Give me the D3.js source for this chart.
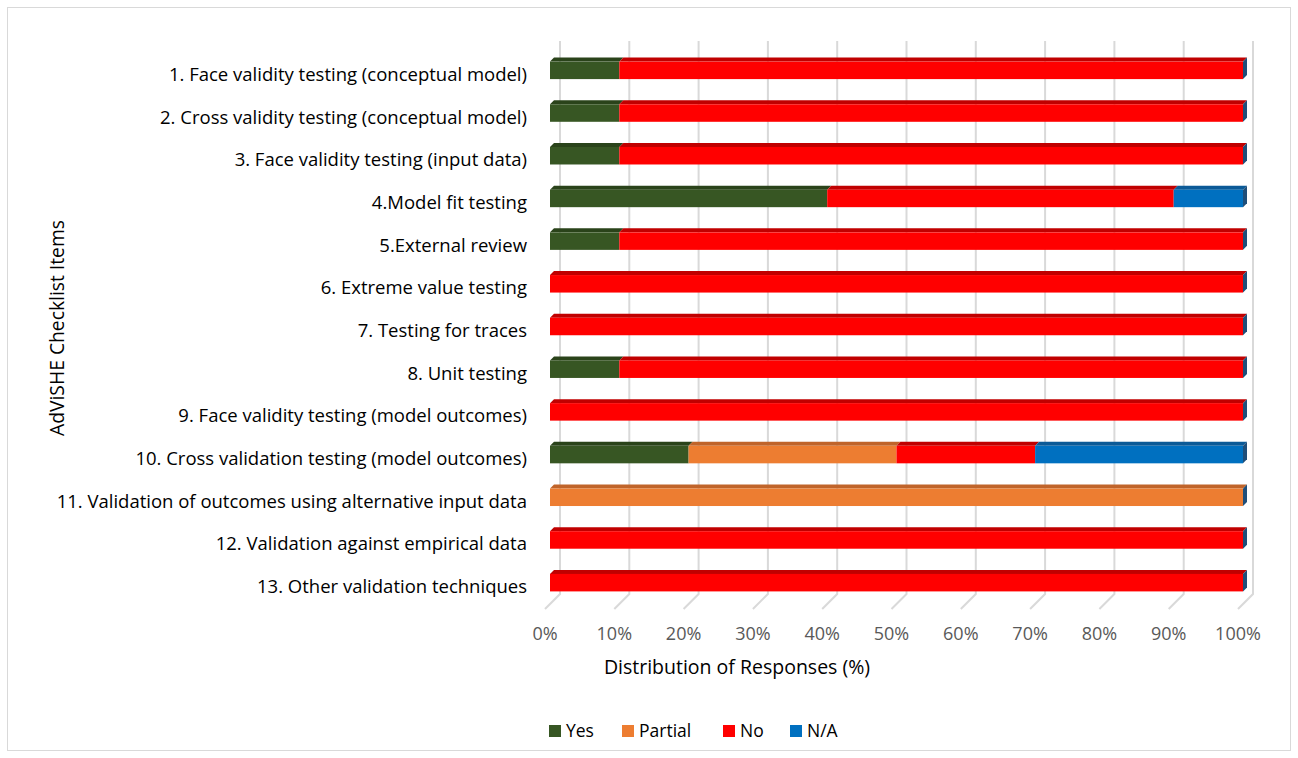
<!DOCTYPE html>
<html>
<head>
<meta charset="utf-8">
<script src="https://cdn.jsdelivr.net/npm/d3@7"></script>
<style>
  html, body { margin: 0; padding: 0; background: #ffffff; }
  svg { display: block; font-family: "Open Sans", Lato, sans-serif; }
</style>
</head>
<body>
<svg id="chart" width="1298" height="758"></svg>
<script>
// AdViSHE checklist items (top to bottom)
const categories = [
  "1. Face validity testing (conceptual model)",
  "2. Cross validity testing (conceptual model)",
  "3. Face validity testing (input data)",
  "4.Model fit testing",
  "5.External review",
  "6. Extreme value testing",
  "7. Testing for traces",
  "8. Unit testing",
  "9. Face validity testing (model outcomes)",
  "10. Cross validation testing (model outcomes)",
  "11. Validation of outcomes using alternative input data",
  "12. Validation against empirical data",
  "13. Other validation techniques"
];

// Share of responses per item (%)
const seriesNames = ["Yes", "Partial", "No", "N/A"];
const yesValues     = [10, 10, 10, 40, 10, 0, 0, 10, 0, 20, 0, 0, 0];
const partialValues = [0, 0, 0, 0, 0, 0, 0, 0, 0, 30, 100, 0, 0];
const noValues      = [90, 90, 90, 50, 90, 100, 100, 90, 100, 20, 0, 100, 100];
const naValues      = [0, 0, 0, 10, 0, 0, 0, 0, 0, 30, 0, 0, 0];

const tickValues = [0, 10, 20, 30, 40, 50, 60, 70, 80, 90, 100];
const tickLabels = ["0%", "10%", "20%", "30%", "40%", "50%", "60%", "70%", "80%", "90%", "100%"];

const frontColors = ["#375623", "#ED7D31", "#FF0000", "#0070C0"];
const topColors   = ["#2A431A", "#C0642A", "#C00000", "#0B5A97"];
const sideColors  = ["#2A431A", "#B35C24", "#B30000", "#1F4E79"];

const svg = d3.select("#chart");
const W = 1298, H = 758;

// chart frame
svg.append("rect")
  .attr("x", 7.5).attr("y", 7.5)
  .attr("width", W - 15).attr("height", H - 15)
  .attr("fill", "#fff").attr("stroke", "#d9d9d9").attr("stroke-width", 1);

// oblique depth offsets (45 degree projection)
const barDepth = 4;     // thickness of the bars
const wallShift = 10;   // bar front -> back wall
const floorShift = 5;   // bar front -> floor front edge

// x scale in the plane of the bars' front faces
const x = d3.scaleLinear().domain([0, 100]).range([550, 1243]);
// category scale in the same plane
const y = d3.scaleBand().domain(categories).range([49, 604])
  .paddingInner(0.59).paddingOuter(0.295);

const wallTop = 41;
const wallBottom = y.range()[1] - wallShift;

// gridlines on the back wall and the floor
const grid = svg.append("g").attr("stroke", "#d9d9d9").attr("stroke-width", 2).attr("fill", "none");
tickValues.forEach(v => {
  const xb = x(v) + wallShift;
  grid.append("path")
    .attr("d", `M${xb},${wallTop}V${wallBottom}L${x(v) - floorShift},${wallBottom + wallShift + floorShift}`);
});

// stacked data
const rows = categories.map((c, i) => {
  const vals = [yesValues[i], partialValues[i], noValues[i], naValues[i]];
  let acc = 0;
  const segs = vals.map((v, k) => {
    const s = { series: seriesNames[k], k, x0: acc, x1: acc + v };
    acc += v;
    return s;
  });
  return { cat: c, segs, total: acc };
});

const bars = svg.append("g");
rows.forEach(r => {
  const yt = y(r.cat), h = y.bandwidth();
  const g = bars.append("g");
  r.segs.filter(s => s.x1 > s.x0).forEach(s => {
    const a = x(s.x0), b = x(s.x1);
    // top face
    g.append("path")
      .attr("d", `M${a},${yt}L${a + barDepth},${yt - barDepth}L${b + barDepth},${yt - barDepth}L${b},${yt}Z`)
      .attr("fill", topColors[s.k]);
    // front face
    g.append("rect")
      .attr("x", a).attr("y", yt)
      .attr("width", b - a).attr("height", h)
      .attr("fill", frontColors[s.k]);
  });
  // end face, belonging to the last series in the stack
  const e = x(r.total);
  g.append("path")
    .attr("d", `M${e},${yt}L${e + barDepth},${yt - barDepth}L${e + barDepth},${yt + h - barDepth}L${e},${yt + h}Z`)
    .attr("fill", sideColors[3]);
});

// category labels
svg.append("g").selectAll("text").data(categories).join("text")
  .attr("x", 527)
  .attr("y", d => y(d) + y.bandwidth() / 2 + floorShift - 2)
  .attr("text-anchor", "end")
  .attr("dominant-baseline", "central")
  .attr("font-size", 18.5)
  .attr("fill", "#000")
  .text(d => d);

// value axis tick labels
svg.append("g").selectAll("text").data(tickValues).join("text")
  .attr("x", v => x(v) - floorShift)
  .attr("y", 640)
  .attr("text-anchor", "middle")
  .attr("font-size", 18)
  .attr("fill", "#595959")
  .text((v, i) => tickLabels[i]);

// axis titles
svg.append("text")
  .attr("x", 737).attr("y", 674)
  .attr("text-anchor", "middle")
  .attr("font-size", 19.5)
  .attr("fill", "#000")
  .text("Distribution of Responses (%)");

svg.append("text")
  .attr("transform", "translate(64,328) rotate(-90)")
  .attr("text-anchor", "middle")
  .attr("font-size", 19.3)
  .attr("fill", "#000")
  .text("AdViSHE Checklist Items");

// legend
const legendX = [549, 622, 723, 790];
const legend = svg.append("g");
seriesNames.forEach((n, k) => {
  legend.append("rect")
    .attr("x", legendX[k]).attr("y", 725)
    .attr("width", 12).attr("height", 12)
    .attr("fill", frontColors[k]);
  legend.append("text")
    .attr("x", legendX[k] + 17).attr("y", 737)
    .attr("font-size", 17.5)
    .attr("fill", "#000")
    .text(n);
});
</script>
</body>
</html>
